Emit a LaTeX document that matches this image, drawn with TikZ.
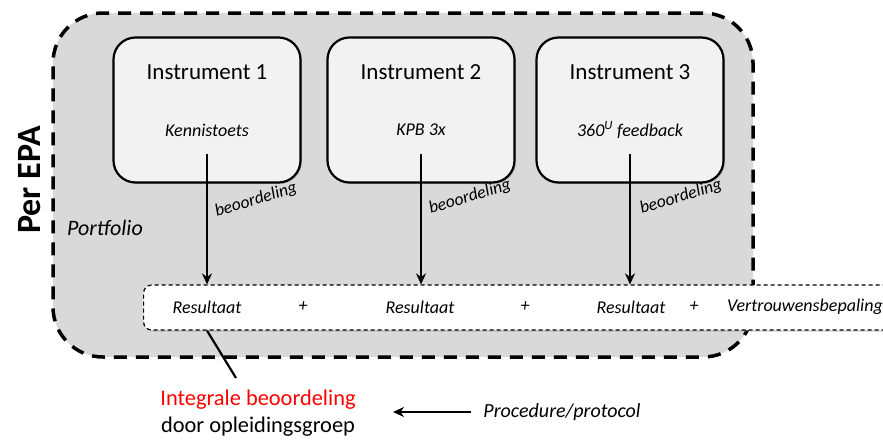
\documentclass[tikz,border=0pt]{standalone}
\usepackage{fontspec}
\setmainfont{Carlito}
\usepackage{tikz}
\usetikzlibrary{positioning}
\usetikzlibrary{shadows}
\usetikzlibrary{arrows.meta}
\definecolor{epagrey}{RGB}{217,217,217}
\definecolor{boxgrey}{RGB}{242,242,242}

\begin{document}
\begin{tikzpicture}[x=1pt,y=-1pt,>={Stealth[length=11pt,width=10pt]},line width=2.2pt]
\tikzstyle{frame}=[draw,line width=3.5pt,dash pattern=on 13pt off 9pt,rounded corners=50pt,fill=epagrey,minimum width=700,minimum height=344]
\tikzstyle{instr}=[draw,rounded corners=22pt,fill=boxgrey,minimum width=187,minimum height=145,drop shadow={shadow xshift=1.5pt,shadow yshift=-1.5pt,opacity=.35}]
\tikzstyle{bar}=[draw,line width=1.2pt,dash pattern=on 4pt off 3pt,rounded corners=8pt,fill=white,minimum width=800,minimum height=45,anchor=west,drop shadow={shadow xshift=1.5pt,shadow yshift=-1.5pt,opacity=.35}]
\tikzstyle{ttl}=[font=\fontsize{23}{27}\selectfont]
\tikzstyle{sub}=[font=\fontsize{18}{21}\selectfont\itshape]
\tikzstyle{rot}=[font=\fontsize{17.5}{21}\selectfont\itshape,rotate=17]

\useasboundingbox (0,0) rectangle (883,439);
\clip (0,0) rectangle (883,439);

\node[frame]	(epa)	at (403,185)	{};
\node[font=\fontsize{34}{40}\selectfont\bfseries,rotate=90]	(perepa)	at (30,180)	{Per EPA};
\node[font=\fontsize{22}{26}\selectfont\itshape]	(port)	at (105,228)	{Portfolio};

\node[instr]	(i1)	at (207,110)	{};
\node[instr]	(i2)	at (421,110)	{};
\node[instr]	(i3)	at (630,110)	{};
\node[ttl]	(t1)	at (207,72)	{Instrument 1};
\node[ttl]	(t2)	at (421,72)	{Instrument 2};
\node[ttl]	(t3)	at (630,72)	{Instrument 3};
\node[sub]	(s1)	at (207,130)	{Kennistoets};
\node[sub]	(s2)	at (421,130)	{KPB 3x};
\node[sub]	(s3)	at (630,130)	{360\textsuperscript{U} feedback};
\node[rot]	(b1)	at (256,200)	{beoordeling};
\node[rot]	(b2)	at (470,197)	{beoordeling};
\node[rot]	(b3)	at (681,197)	{beoordeling};

\node[bar]	(res)	at (143,307.5)	{};
\node[sub]	(r1)	at (207,307)	{Resultaat};
\node[sub]	(p1)	at (303,307)	{+};
\node[sub]	(r2)	at (420,307)	{Resultaat};
\node[sub]	(p2)	at (525,307)	{+};
\node[sub]	(r3)	at (631,307)	{Resultaat};
\node[sub]	(p3)	at (694,307)	{+};
\node[sub]	(vtb)	at (805,307)	{Vertrouwensbepaling};

\node[font=\fontsize{22.4}{27}\selectfont,align=center]	(int)	at (258,413)	{\textcolor{red}{Integrale beoordeling}\\door opleidingsgroep};
\node[font=\fontsize{20}{24}\selectfont\itshape]	(proc)	at (562,412)	{Procedure/protocol};
\coordinate	(lineEnd)	at (236,378);

\draw[->]	([yshift=30pt]i1.south)	--	(i1.south |- res.north);
\draw[->]	([yshift=30pt]i2.south)	--	(i2.south |- res.north);
\draw[->]	([yshift=30pt]i3.south)	--	(i3.south |- res.north);
\draw	(r1 |- res.south)	--	(lineEnd);
\draw[->,shorten <=8pt,shorten >=33pt]	(proc.west)	--	(int.east |- proc.west);
\end{tikzpicture}
\end{document}
